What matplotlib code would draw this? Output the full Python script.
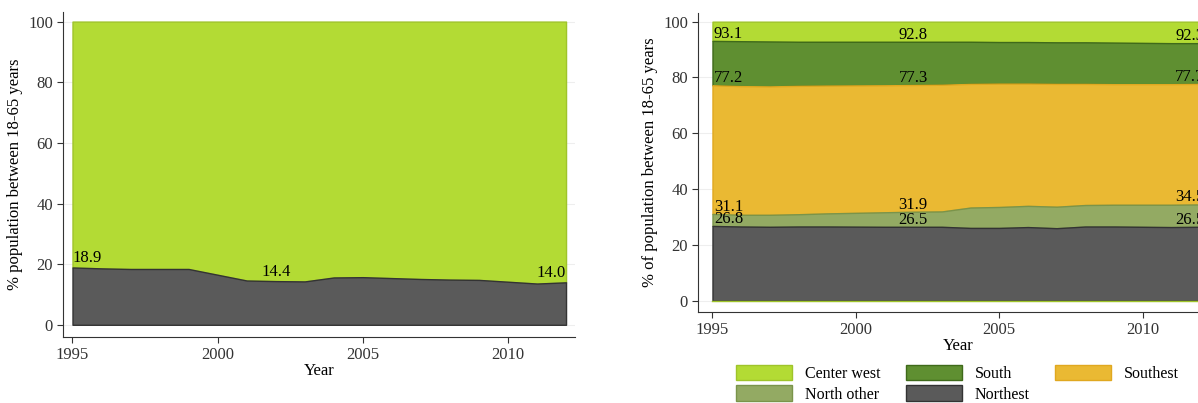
import matplotlib.pyplot as plt
import numpy as np

plt.rcParams['font.family'] = ['Liberation Serif', 'DejaVu Serif']

years = [1995, 1996, 1997, 1998, 1999, 2001, 2002, 2003, 2004, 2005, 2006, 2007, 2008, 2009, 2011, 2012]
rural = [18.9, 18.6, 18.4, 18.4, 18.4, 14.6, 14.4, 14.3, 15.6, 15.7, 15.4, 15.1, 14.9, 14.8, 13.6, 14.0]

# cumulative tops of each region band
northest_top = [26.8, 26.6, 26.5, 26.6, 26.6, 26.5, 26.5, 26.5, 26.1, 26.1, 26.4, 26.0, 26.6, 26.6, 26.4, 26.5]
north_top = [31.1, 30.8, 30.8, 31.0, 31.3, 31.7, 31.9, 32.0, 33.4, 33.6, 34.0, 33.7, 34.3, 34.4, 34.4, 34.5]
southeast_top = [77.2, 76.9, 76.8, 77.0, 77.1, 77.2, 77.3, 77.4, 77.7, 77.8, 77.8, 77.7, 77.7, 77.6, 77.6, 77.7]
south_top = [93.1, 93.0, 92.9, 92.8, 92.8, 92.8, 92.8, 92.8, 92.8, 92.7, 92.7, 92.6, 92.6, 92.5, 92.3, 92.3]

C_URB = '#b3db34'
C_RUR = '#5a5a5a'
C_SOUTH = '#5f8f31'
C_SE = '#eab933'
C_NO = '#93aa63'

fig = plt.figure(figsize=(11.98, 4.03), dpi=100)
ax1 = fig.add_axes([0.053, 0.164, 0.427, 0.805])
ax2 = fig.add_axes([0.583, 0.226, 0.433, 0.741])

def style(ax):
    for s in ['top', 'right']:
        ax.spines[s].set_visible(False)
    ax.spines['left'].set_color('#333333')
    ax.spines['bottom'].set_color('#333333')
    ax.set_ylim(-4, 103)
    ax.set_yticks([0, 20, 40, 60, 80, 100])
    ax.set_xticks([1995, 2000, 2005, 2010])
    ax.tick_params(labelsize=12, colors='#333333', length=4)
    ax.set_xlabel('Year', fontsize=12, labelpad=0)
    ax.grid(axis='y', color='#eeeeee', lw=0.8)
    ax.set_axisbelow(True)

x = np.array(years)
zero = np.zeros(len(x))
ax1.fill_between(x, rural, 100, color=C_URB, edgecolor='#9fc42a', lw=1, label='Urban')
ax1.fill_between(x, 0, rural, color=C_RUR, edgecolor='#333333', lw=1, label='Rural')
style(ax1)
ax1.set_xlim(1994.69, 2012.31)
ax1.set_ylabel('% population between 18-65 years', fontsize=12)
for i in [0, 6, 15]:
    ha = 'right' if i == 15 else ('left' if i == 0 else 'center')
    ax1.text(years[i], rural[i] + 0.4, f'{rural[i]:.1f}', fontsize=12, ha=ha, va='bottom')
ax1.legend(loc='upper center', bbox_to_anchor=(0.5, -0.16), ncol=2, frameon=False,
           fontsize=12, handlelength=4, handleheight=1.5, columnspacing=2)

ax2.fill_between(x, south_top, 100, color=C_URB, edgecolor='#9fc42a', lw=1, label='Center west')
ax2.fill_between(x, southeast_top, south_top, color=C_SOUTH, edgecolor='#3f6a1a', lw=1, label='South')
ax2.fill_between(x, north_top, southeast_top, color=C_SE, edgecolor='#e0a820', lw=1, label='Southest')
ax2.fill_between(x, northest_top, north_top, color=C_NO, edgecolor='#7a944a', lw=1, label='North other')
ax2.fill_between(x, 0, northest_top, color=C_RUR, edgecolor='#333333', lw=1, label='Northest')
ax2.plot(x, zero, color='#9fc42a', lw=1)
style(ax2)
ax2.set_xlim(1994.51, 2012.6)
ax2.set_ylabel('% of population between 18-65 years', fontsize=12)
for arr in [northest_top, north_top, southeast_top, south_top]:
    for i in [0, 6, 15]:
        ha = 'left' if i == 0 else 'center'
        xx = years[i] + (0.05 if i == 0 else (-0.35 if i == 15 else 0))
        ax2.text(xx, arr[i] - 0.3, f'{arr[i]:.1f}', fontsize=12, ha=ha, va='bottom')
h, l = ax2.get_legend_handles_labels()
order = [0, 3, 1, 4, 2]
ax2.legend([h[k] for k in order], [l[k] for k in order], loc='upper center', bbox_to_anchor=(0.5, -0.13),
           ncol=3, frameon=False, fontsize=11.5, handlelength=3.5, handleheight=1.1, columnspacing=1.6,
           labelspacing=0.2)

fig.savefig('out.png', dpi=100)
